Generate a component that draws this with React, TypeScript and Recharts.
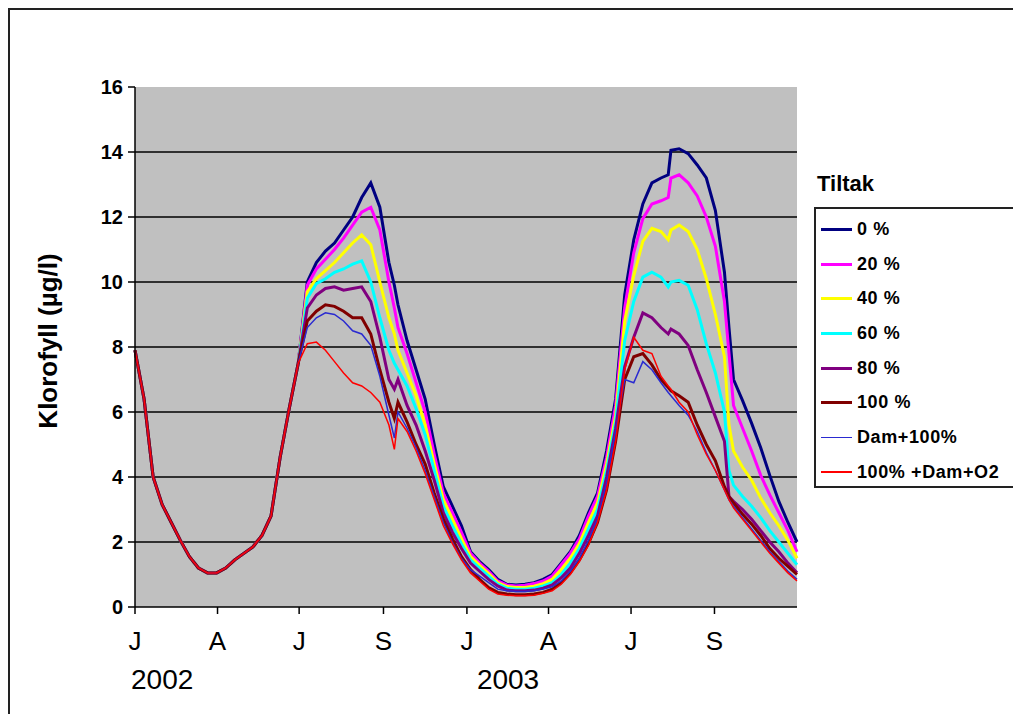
import { LineChart, Line, XAxis, YAxis, CartesianGrid } from 'recharts';

// Simulated chlorophyll (µg/l), day 0 = 1 Jan 2002
const days = [
  0, 10, 20, 30, 40, 50, 60, 70, 80, 90, 100, 110, 120, 130, 140, 150, 160, 170, 180,
  190, 200, 210, 220, 230, 240, 250, 260, 270, 280, 286, 290, 300, 310, 320, 330, 340, 350,
  360, 370, 380, 390, 400, 410, 420, 430, 440, 450, 460, 470, 480, 490, 500, 510, 520, 530,
  540, 550, 560, 570, 580, 588, 591, 600, 610, 620, 630, 640, 650, 655, 660, 670, 680, 690,
  700, 710, 720, 730,
];

// first half of 2002 is identical for every scenario
const winter2002 = [
  7.9, 6.4, 4.0, 3.15, 2.6, 2.05, 1.55, 1.2, 1.05, 1.05, 1.2, 1.45, 1.65, 1.85, 2.2, 2.8, 4.6, 6.1, 7.5,
];

const tiltak0 = [...winter2002,
  10.0, 10.6, 10.95, 11.2, 11.6, 12.0, 12.6, 13.05, 12.3, 10.6, 9.9, 9.3, 8.2, 7.3, 6.4, 5.0, 3.7, 3.1,
  2.5, 1.7, 1.4, 1.15, 0.85, 0.7, 0.68, 0.7, 0.75, 0.85, 1.0, 1.35, 1.7, 2.2, 2.9, 3.5, 4.8, 6.4,
  9.6, 11.3, 12.4, 13.05, 13.2, 13.3, 14.05, 14.1, 13.95, 13.6, 13.2, 12.2, 10.3, 8.6, 7.0, 6.35, 5.65, 4.9,
  4.05, 3.25, 2.6, 2.0,
];
const tiltak20 = [...winter2002,
  9.9, 10.4, 10.7, 11.0, 11.35, 11.75, 12.15, 12.3, 11.6, 10.0, 9.2, 8.6, 7.8, 6.9, 6.0, 4.7, 3.5, 2.9,
  2.3, 1.65, 1.35, 1.1, 0.8, 0.68, 0.65, 0.67, 0.72, 0.8, 0.95, 1.3, 1.65, 2.1, 2.8, 3.4, 4.6, 6.2,
  9.2, 10.9, 11.95, 12.4, 12.5, 12.6, 13.2, 13.3, 13.05, 12.65, 12.0, 11.1, 9.4, 7.8, 6.2, 5.5, 4.8, 4.05,
  3.45, 2.9, 2.35, 1.7,
];
const tiltak40 = [...winter2002,
  9.7, 10.1, 10.35, 10.6, 10.9, 11.2, 11.45, 11.15, 10.0, 8.9, 8.4, 7.9, 7.2, 6.5, 5.6, 4.4, 3.3, 2.7,
  2.1, 1.55, 1.28, 1.03, 0.75, 0.63, 0.6, 0.6, 0.64, 0.72, 0.85, 1.15, 1.5, 1.95, 2.6, 3.2, 4.4, 5.9,
  8.8, 10.2, 11.25, 11.65, 11.55, 11.3, 11.6, 11.75, 11.55, 11.0, 10.1, 9.0, 7.7, 5.6, 4.8, 4.3, 3.9, 3.35,
  2.9, 2.5, 2.05, 1.5,
];
const tiltak60 = [...winter2002,
  9.5, 9.95, 10.1, 10.3, 10.4, 10.55, 10.65, 10.0, 8.9, 7.9, 7.5, 7.3, 6.8, 6.1, 5.3, 4.2, 3.1, 2.5,
  1.95, 1.45, 1.2, 0.95, 0.7, 0.58, 0.55, 0.55, 0.58, 0.65, 0.75, 1.0, 1.35, 1.8, 2.4, 3.0, 4.2, 5.7,
  8.2, 9.4, 10.15, 10.3, 10.15, 9.85, 10.0, 10.05, 9.9, 9.15, 8.1, 7.2, 6.0, 4.2, 3.75, 3.4, 3.1, 2.75,
  2.35, 2.0, 1.65, 1.3,
];
const tiltak80 = [...winter2002,
  9.2, 9.6, 9.8, 9.85, 9.75, 9.8, 9.85, 9.4, 8.3, 7.0, 6.7, 7.0, 6.2, 5.6, 4.8, 3.9, 2.9, 2.3,
  1.8, 1.35, 1.1, 0.85, 0.65, 0.52, 0.5, 0.5, 0.52, 0.58, 0.68, 0.9, 1.2, 1.65, 2.2, 2.8, 4.0, 5.5,
  7.4, 8.3, 9.05, 8.9, 8.6, 8.4, 8.55, 8.4, 8.05, 7.3, 6.6, 5.85, 5.1, 3.4, 3.25, 3.0, 2.7, 2.35,
  2.0, 1.7, 1.35, 1.05,
];
const tiltak100 = [...winter2002,
  8.8, 9.1, 9.3, 9.25, 9.1, 8.9, 8.9, 8.4, 7.3, 6.3, 5.8, 6.3, 5.7, 5.0, 4.4, 3.5, 2.7, 2.1,
  1.55, 1.15, 0.85, 0.6, 0.45, 0.4, 0.38, 0.38, 0.4, 0.45, 0.55, 0.75, 1.05, 1.45, 1.95, 2.6, 3.6, 5.1,
  7.0, 7.7, 7.8, 7.45, 7.0, 6.75, 6.65, 6.5, 6.3, 5.6, 5.0, 4.5, 3.7, 3.4, 3.2, 2.85, 2.55, 2.2,
  1.8, 1.5, 1.25, 1.0,
];
const damPluss100 = [...winter2002,
  8.6, 8.9, 9.05, 9.0, 8.8, 8.5, 8.4, 8.05, 7.1, 5.9, 5.2, 6.0, 5.5, 4.9, 4.2, 3.4, 2.6, 2.0,
  1.5, 1.15, 0.95, 0.75, 0.55, 0.5, 0.48, 0.48, 0.5, 0.55, 0.62, 0.8, 1.1, 1.5, 2.05, 2.7, 3.8, 5.4,
  7.0, 6.9, 7.55, 7.3, 6.9, 6.6, 6.5, 6.2, 5.9, 5.4, 4.75, 4.2, 3.6, 3.3, 3.1, 2.75, 2.4, 2.05,
  1.7, 1.4, 1.1, 0.85,
];
const damPlussO2 = [...winter2002,
  8.1, 8.15, 7.9, 7.55, 7.2, 6.9, 6.8, 6.6, 6.3, 5.6, 4.85, 5.8, 5.4, 4.8, 4.1, 3.3, 2.5, 1.95,
  1.45, 1.05, 0.8, 0.55, 0.4, 0.36, 0.35, 0.35, 0.36, 0.42, 0.5, 0.7, 1.0, 1.4, 1.9, 2.6, 3.6, 5.1,
  7.3, 8.3, 7.9, 7.8, 7.1, 6.8, 6.7, 6.3, 6.0, 5.3, 4.7, 4.2, 3.6, 3.3, 3.05, 2.7, 2.35, 2.0,
  1.65, 1.35, 1.05, 0.8,
];

const tickDays = [0, 91, 181, 274, 366, 456, 547, 639];
const monthLabels = ['J', 'A', 'J', 'S', 'J', 'A', 'J', 'S'];
const yearLabels = ['2002', '', '', '', '2003', '', '', ''];
const yTicks = [0, 2, 4, 6, 8, 10, 12, 14, 16];
const gridValues = [2, 4, 6, 8, 10, 12, 14];

const series = [
  { key: 't0', name: '0 %', values: tiltak0, color: '#000080', width: 3 },
  { key: 't20', name: '20 %', values: tiltak20, color: '#ff00ff', width: 3 },
  { key: 't40', name: '40 %', values: tiltak40, color: '#ffff00', width: 3 },
  { key: 't60', name: '60 %', values: tiltak60, color: '#00ffff', width: 3 },
  { key: 't80', name: '80 %', values: tiltak80, color: '#800080', width: 3 },
  { key: 't100', name: '100 %', values: tiltak100, color: '#800000', width: 3 },
  { key: 'dam', name: 'Dam+100%', values: damPluss100, color: '#2a2ad0', width: 1.5 },
  { key: 'o2', name: '100% +Dam+O2', values: damPlussO2, color: '#ff0000', width: 1.5 },
];

const data = days.map((day, i) => {
  const row: Record<string, number> = { day };
  series.forEach((s) => {
    row[s.key] = s.values[i];
  });
  return row;
});

const FONT = '"Liberation Sans", Arial, sans-serif';

function MonthTick({ x, y, payload }: any) {
  const i = tickDays.indexOf(payload.value);
  const yearShift = i === 0 ? -4 : 10;
  return (
    <g>
      <text x={x} y={y + 34} textAnchor="middle" fontSize={26} fontFamily={FONT} fill="#000">
        {monthLabels[i]}
      </text>
      {yearLabels[i] && (
        <text x={x + yearShift} y={y + 73} textAnchor="start" fontSize={28} fontFamily={FONT} fill="#000">
          {yearLabels[i]}
        </text>
      )}
    </g>
  );
}

function YTitle() {
  return (
    <text
      x={47}
      y={331}
      transform="rotate(-90 47 331)"
      textAnchor="middle"
      fontSize={26}
      fontWeight="bold"
      fontFamily={FONT}
      fill="#000"
    >
      Klorofyll (µg/l)
    </text>
  );
}

function TiltakLegend() {
  return (
    <>
      <div
        style={{
          position: 'absolute',
          left: 807,
          top: 161,
          fontFamily: FONT,
          fontWeight: 'bold',
          fontSize: 22,
        }}
      >
        Tiltak
      </div>
      <div
        style={{
          position: 'absolute',
          left: 804,
          top: 197,
          width: 240,
          height: 281,
          border: '2px solid #222',
          boxSizing: 'border-box',
          background: '#fff',
          paddingTop: 3,
        }}
      >
        {series.map((s) => (
          <div key={s.key} style={{ height: 34.7, display: 'flex', alignItems: 'center' }}>
            <div style={{ marginLeft: 5, width: 31, height: s.width, background: s.color }} />
            <span
              style={{
                marginLeft: 5,
                fontFamily: FONT,
                fontWeight: 'bold',
                fontSize: 18,
                letterSpacing: 0.6,
                color: '#000',
                whiteSpace: 'nowrap',
              }}
            >
              {s.name}
            </span>
          </div>
        ))}
      </div>
    </>
  );
}

export default function App() {
  return (
    <div
      style={{
        position: 'relative',
        width: 1040,
        height: 720,
        border: '2px solid #222',
        boxSizing: 'border-box',
        background: '#fff',
      }}
    >
      <style>{'body { overflow: hidden; }'}</style>
      <LineChart
        width={1000}
        height={700}
        data={data}
        margin={{ top: 77, right: 213, bottom: 43, left: 0 }}
      >
        <CartesianGrid
          vertical={false}
          horizontalValues={gridValues}
          stroke="#000"
          strokeWidth={1.5}
          fill="#c0c0c0"
          fillOpacity={1}
        />
        <XAxis
          dataKey="day"
          type="number"
          domain={[0, 730]}
          ticks={tickDays}
          height={60}
          tickSize={7}
          tick={<MonthTick />}
          axisLine={{ stroke: '#000', strokeWidth: 1.5 }}
          tickLine={{ stroke: '#000', strokeWidth: 1.5 }}
          interval={0}
        />
        <YAxis
          domain={[0, 16]}
          ticks={yTicks}
          width={125}
          tickSize={7}
          tickMargin={5}
          interval={0}
          axisLine={{ stroke: '#000', strokeWidth: 1.5 }}
          tickLine={{ stroke: '#000', strokeWidth: 1.5 }}
          tick={{ fontSize: 20, fontWeight: 'bold', fill: '#000', fontFamily: FONT }}
          label={{ content: () => <YTitle /> }}
        />
        {series.map((s) => (
          <Line
            key={s.key}
            dataKey={s.key}
            name={s.name}
            type="linear"
            stroke={s.color}
            strokeWidth={s.width}
            dot={false}
            activeDot={false}
            isAnimationActive={false}
          />
        ))}
      </LineChart>
      <TiltakLegend />
    </div>
  );
}
